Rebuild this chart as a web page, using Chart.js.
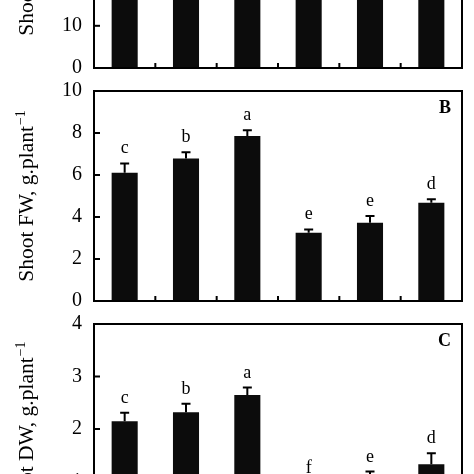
<!DOCTYPE html>
<html><head><meta charset="utf-8">
<script src="https://cdn.jsdelivr.net/npm/chart.js@4"></script>
<style>
html,body{margin:0;padding:0;background:#fff;overflow:hidden;width:474px;height:474px;}
#wrap{position:relative;width:474px;height:474px;overflow:hidden;background:#fff;}
.p{position:absolute;left:0;width:474px;}
</style></head><body>
<div id="wrap">
<div class="p" style="top:-167px;height:259px"><canvas id="cA"></canvas></div>
<div class="p" style="top:67px;height:258px"><canvas id="cB"></canvas></div>
<div class="p" style="top:300px;height:258px"><canvas id="cC"></canvas></div>
</div>
<script>
// ---- data ----
const categories = ['T1', 'T2', 'T3', 'T4', 'T5', 'T6'];

const panelATitle = 'Shoot length, cm';
const panelATitleSup = '';
const panelAValues = [34, 37, 40, 26, 28, 30];
const panelAErrors = [1.5, 1.5, 1.5, 1.2, 1.2, 1.2];
const panelALetters = ['c', 'b', 'a', 'e', 'e', 'd'];
const panelATickMax = 50;
const panelATickStep = 10;

const panelBTitle = 'Shoot FW, g.plant';
const panelBTitleSup = '\u22121';
const panelBValues = [6.11, 6.78, 7.86, 3.25, 3.73, 4.68];
const panelBErrors = [0.44, 0.30, 0.27, 0.16, 0.32, 0.16];
const panelBLetters = ['c', 'b', 'a', 'e', 'e', 'd'];
const panelBTickMax = 10;
const panelBTickStep = 2;

const panelCTitle = 'Shoot DW, g.plant';
const panelCTitleSup = '\u22121';
const panelCValues = [2.15, 2.32, 2.65, 0.88, 1.05, 1.33];
const panelCErrors = [0.16, 0.16, 0.14, 0.10, 0.14, 0.21];
const panelCLetters = ['c', 'b', 'a', 'f', 'e', 'd'];
const panelCTickMax = 4;
const panelCTickStep = 1;

const SERIF = "'Liberation Serif', 'Times New Roman', serif";

const framePlugin = {
  id: 'frame',
  afterDatasetsDraw(chart) {
    const ctx = chart.ctx;
    const ca = chart.chartArea;
    const xs = chart.scales.x, ys = chart.scales.y;
    const cfg = chart.options.plugins.frame;
    ctx.save();
    ctx.strokeStyle = '#000';
    ctx.fillStyle = '#000';
    // error bars + letters
    const vals = cfg.values, errs = cfg.errors, lets = cfg.letters;
    ctx.lineWidth = 2;
    for (let i = 0; i < vals.length; i++) {
      const x = xs.getPixelForValue(i);
      const yb = ys.getPixelForValue(vals[i]);
      const yt = ys.getPixelForValue(vals[i] + errs[i]);
      ctx.beginPath();
      ctx.moveTo(x, yb); ctx.lineTo(x, yt);
      ctx.moveTo(x - 4.5, yt); ctx.lineTo(x + 4.5, yt);
      ctx.stroke();
      ctx.font = '18px ' + SERIF;
      ctx.textAlign = 'center';
      ctx.textBaseline = 'alphabetic';
      ctx.fillText(lets[i], x, yt - 10);
    }
    // frame
    ctx.strokeRect(ca.left, ca.top, ca.right - ca.left, ca.bottom - ca.top);
    // y ticks inward
    ys.ticks.forEach(t => {
      const y = ys.getPixelForValue(t.value);
      ctx.beginPath(); ctx.moveTo(ca.left, y); ctx.lineTo(ca.left + 6, y); ctx.stroke();
    });
    // x ticks at category boundaries, inward
    for (let i = 0; i < categories.length - 1; i++) {
      const x = (xs.getPixelForValue(i) + xs.getPixelForValue(i + 1)) / 2;
      ctx.beginPath(); ctx.moveTo(x, ca.bottom); ctx.lineTo(x, ca.bottom - 5); ctx.stroke();
    }
    // panel letter
    if (cfg.panel) {
      ctx.font = 'bold 18px ' + SERIF;
      ctx.textAlign = 'right';
      ctx.textBaseline = 'middle';
      ctx.fillText(cfg.panel, ca.right - 11, ca.top + 17);
    }
    // rotated y-axis title with superscript
    const mainFont = '21.5px ' + SERIF, supFont = '14px ' + SERIF;
    ctx.font = mainFont;
    const wMain = ctx.measureText(cfg.title).width;
    ctx.font = supFont;
    const wSup = cfg.sup ? ctx.measureText(cfg.sup).width + 1 : 0;
    const total = wMain + wSup;
    const cy = (ca.top + ca.bottom) / 2;
    ctx.translate(33, cy);
    ctx.rotate(-Math.PI / 2);
    ctx.textAlign = 'left';
    ctx.textBaseline = 'alphabetic';
    ctx.font = mainFont;
    ctx.fillText(cfg.title, -total / 2, 0);
    if (cfg.sup) {
      ctx.font = supFont;
      ctx.fillText(cfg.sup, -total / 2 + wMain + 1, -8);
    }
    ctx.restore();
  }
};

function makePanel(id, title, sup, values, errors, letters, tmax, tstep, panel) {
  new Chart(document.getElementById(id), {
    type: 'bar',
    data: {
      labels: categories,
      datasets: [{ data: values, backgroundColor: '#0c0c0c', borderWidth: 0,
        barPercentage: 0.425, categoryPercentage: 1 }]
    },
    options: {
      responsive: true, maintainAspectRatio: false, animation: false,
      layout: { padding: { top: 20, right: 12, bottom: 10, left: 0 } },
      plugins: {
        legend: { display: false }, tooltip: { enabled: false },
        frame: { values, errors, letters, panel, title, sup }
      },
      scales: {
        x: {
          ticks: { display: false },
          grid: { display: false, drawTicks: false },
          border: { display: false },
          afterFit(s) { s.height = 0; }
        },
        y: {
          min: 0, max: tmax,
          ticks: { stepSize: tstep, color: '#000', font: { family: SERIF, size: 20 }, padding: 12 },
          grid: { display: false, drawTicks: false },
          border: { display: false },
          title: { display: false },
          afterFit(s) { s.width = 94; }
        }
      }
    },
    plugins: [framePlugin]
  });
}

makePanel('cA', panelATitle, panelATitleSup, panelAValues, panelAErrors, panelALetters, panelATickMax, panelATickStep, 'A');
makePanel('cB', panelBTitle, panelBTitleSup, panelBValues, panelBErrors, panelBLetters, panelBTickMax, panelBTickStep, 'B');
makePanel('cC', panelCTitle, panelCTitleSup, panelCValues, panelCErrors, panelCLetters, panelCTickMax, panelCTickStep, 'C');
</script>
</body></html>
